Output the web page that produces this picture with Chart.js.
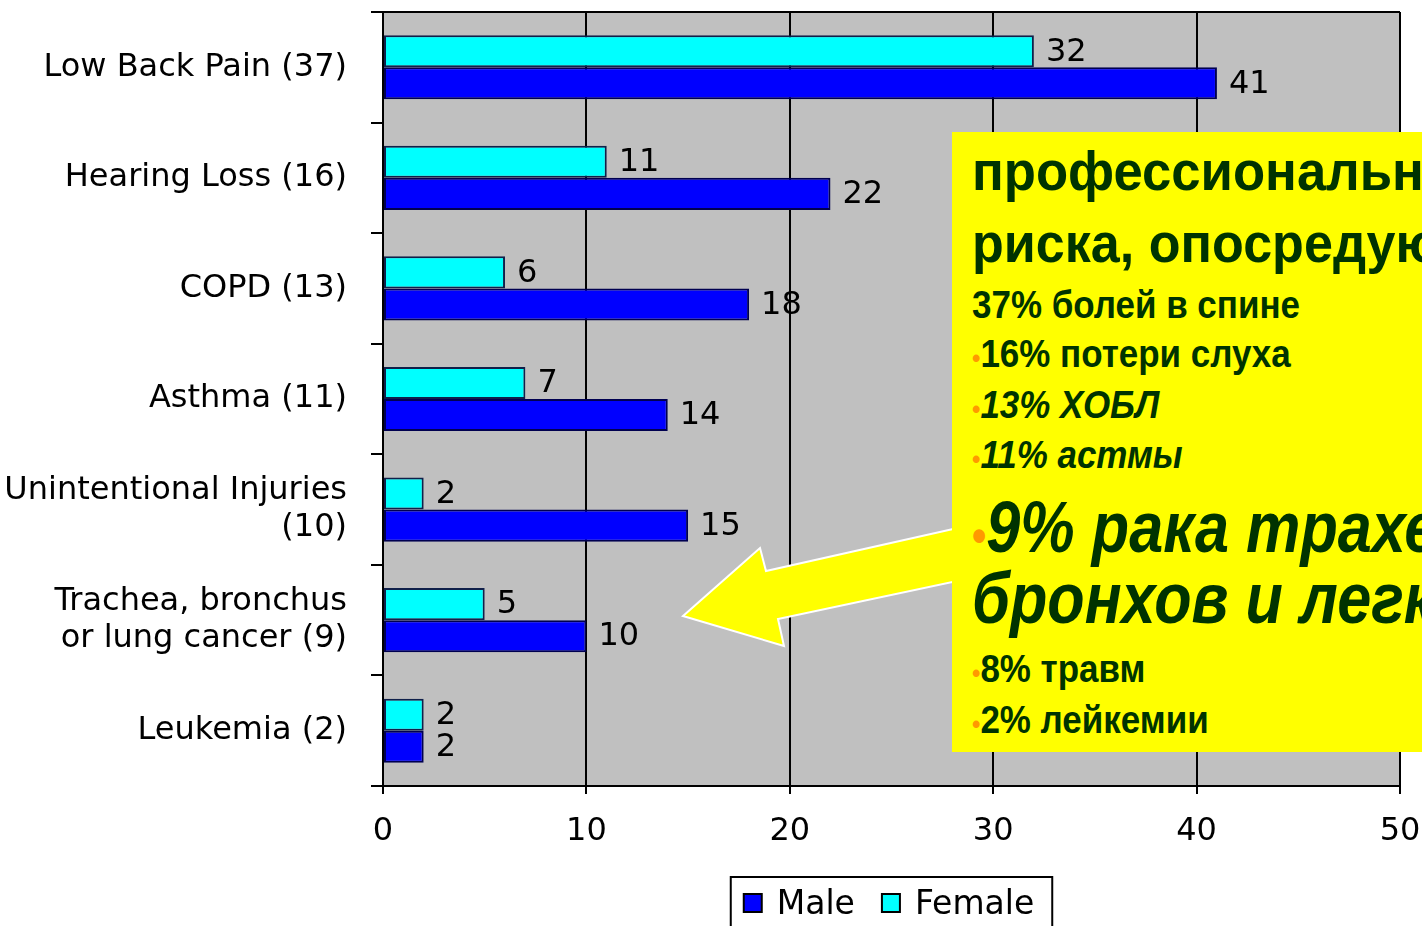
<!DOCTYPE html>
<html><head><meta charset="utf-8">
<script src="https://cdn.jsdelivr.net/npm/chart.js@4.4.0/dist/chart.umd.min.js"></script>
<style>
html,body{margin:0;padding:0;background:#fff;overflow:hidden;width:1422px;height:926px;}
#wrap{position:relative;width:1422px;height:926px;overflow:hidden;}
canvas{position:absolute;left:0;top:0;}
#arrow{position:absolute;left:0;top:0;}
#note{position:absolute;left:952px;top:132px;width:470px;height:620px;background:#ffff00;overflow:hidden;}
.ln{position:absolute;white-space:nowrap;font-family:'Liberation Sans',Arial,sans-serif;font-weight:bold;color:#003300;transform-origin:0 0;line-height:1;}
.it{font-style:italic;}
.b{color:#ff9900;}
</style></head>
<body><div id="wrap">
<canvas id="c" width="1422" height="926"></canvas>
<svg id="arrow" width="1422" height="926"><polygon points="683,616 760,548 766,571 962,527 962,580 778,619 784,646" fill="#ffff00" stroke="#ffffff" stroke-width="2" stroke-linejoin="miter"/></svg>
<div id="note"></div>
</div>
<script>
// ---- data ----
const categories = ['Low Back Pain (37)', 'Hearing Loss (16)', 'COPD (13)', 'Asthma (11)', ['Unintentional Injuries', '(10)'], ['Trachea, bronchus', 'or lung cancer (9)'], 'Leukemia (2)'];
const femaleValues = [32, 11, 6, 7, 2, 5, 2];
const maleValues = [41, 22, 18, 14, 15, 10, 2];
const xTickValues = [0, 10, 20, 30, 40, 50];
const seriesNames = ['Female', 'Male'];
const noteLines = [
  {bullet: false, text: 'профессиональн', size: 56, italic: false, base: 58, sx: 0.94},
  {bullet: false, text: 'риска, опосредую', size: 56, italic: false, base: 130, sx: 0.93},
  {bullet: false, text: '37% болей в спине', size: 38, italic: false, base: 186, sx: 0.92},
  {bullet: true, text: '16% потери слуха', size: 38, italic: false, base: 235, sx: 0.92},
  {bullet: true, text: '13% ХОБЛ', size: 38, italic: true, base: 286, sx: 0.92},
  {bullet: true, text: '11% астмы', size: 38, italic: true, base: 336, sx: 0.92},
  {bullet: true, text: '9% рака трахе', size: 72, italic: true, base: 420, sx: 0.85},
  {bullet: false, text: 'бронхов и легк', size: 72, italic: true, base: 491, sx: 0.85},
  {bullet: true, text: '8% травм', size: 38, italic: false, base: 550, sx: 0.92},
  {bullet: true, text: '2% лейкемии', size: 38, italic: false, base: 601, sx: 0.92}
];

// ---- annotation box (real text) ----
const note = document.getElementById('note');
noteLines.forEach(l => {
  const d = document.createElement('div');
  d.className = 'ln' + (l.italic ? ' it' : '');
  d.style.fontSize = l.size + 'px';
  d.style.left = '20px';
  d.style.top = (l.base - 0.8465 * l.size) + 'px';
  d.style.transform = 'scaleX(' + l.sx + ')';
  if (l.bullet) {
    const b = document.createElement('span');
    b.className = 'b';
    b.style.fontSize = (l.size > 60 ? 48 : 26) + 'px';
    b.style.fontStyle = 'normal';
    b.textContent = '•';
    d.appendChild(b);
  }
  d.appendChild(document.createTextNode(l.text));
  note.appendChild(d);
});

// ---- plugins ----
const plotBg = {
  id: 'plotBg',
  beforeDraw(chart) {
    const {ctx, chartArea: a} = chart;
    ctx.save();
    ctx.fillStyle = '#c0c0c0';
    ctx.fillRect(a.left, a.top, a.right - a.left, a.bottom - a.top);
    ctx.restore();
  },
  beforeDatasetsDraw(chart) {
    const {ctx, chartArea: a} = chart;
    ctx.save();
    ctx.strokeStyle = '#000';
    ctx.lineWidth = 2;
    ctx.beginPath();
    ctx.moveTo(a.left, a.top);
    ctx.lineTo(a.right, a.top);
    ctx.stroke();
    ctx.restore();
  }
};
const valueLabels = {
  id: 'valueLabels',
  afterDatasetsDraw(chart) {
    const ctx = chart.ctx;
    ctx.save();
    ctx.font = '32px "DejaVu Sans"';
    ctx.fillStyle = '#000';
    ctx.textBaseline = 'middle';
    ctx.textAlign = 'left';
    chart.data.datasets.forEach((ds, i) => {
      chart.getDatasetMeta(i).data.forEach((bar, j) => {
        ctx.fillText(String(ds.data[j]), bar.x + 12, bar.y + 1);
      });
    });
    ctx.restore();
  }
};
const boxLegend = {
  id: 'boxLegend',
  afterDraw(chart) {
    const ctx = chart.ctx;
    const a = chart.chartArea;
    ctx.save();
    ctx.font = '33px "DejaVu Sans"';
    const items = chart.data.datasets.slice().reverse();
    const box = 18, gapText = 15, gapItem = 27, padL = 13, padR = 18;
    let total = 0;
    items.forEach((ds, k) => { total += box + gapText + ctx.measureText(ds.label).width + (k ? gapItem : 0); });
    const cx = (a.left + a.right) / 2;
    const startX = cx - (total + padL + padR) / 2;
    const cy = 903;
    ctx.fillStyle = '#fff';
    ctx.fillRect(startX, 877, total + padL + padR, 60);
    ctx.strokeStyle = '#000';
    ctx.lineWidth = 2;
    ctx.strokeRect(startX, 877, total + padL + padR, 60);
    let x = startX + padL;
    ctx.textBaseline = 'middle';
    items.forEach(ds => {
      ctx.fillStyle = ds.backgroundColor;
      ctx.fillRect(x, cy - 9, box, box);
      ctx.strokeStyle = '#000';
      ctx.lineWidth = 2;
      ctx.strokeRect(x, cy - 9, box, box);
      x += box + gapText;
      ctx.fillStyle = '#000';
      ctx.fillText(ds.label, x, cy + 2);
      x += ctx.measureText(ds.label).width + gapItem;
    });
    ctx.restore();
  }
};

new Chart(document.getElementById('c'), {
  type: 'bar',
  data: {
    labels: categories,
    datasets: [
      {label: seriesNames[0], data: femaleValues, backgroundColor: '#00ffff', borderColor: '#10204a', borderWidth: 2, borderSkipped: false},
      {label: seriesNames[1], data: maleValues, backgroundColor: '#0000ff', borderColor: '#000050', borderWidth: 2, borderSkipped: false}
    ]
  },
  options: {
    indexAxis: 'y',
    responsive: false,
    animation: false,
    devicePixelRatio: 1,
    layout: {padding: {top: 12, right: 22, bottom: 0, left: 0}},
    datasets: {bar: {barPercentage: 1, categoryPercentage: 0.58}},
    plugins: {legend: {display: false}, tooltip: {enabled: false}},
    scales: {
      x: {
        min: xTickValues[0], max: xTickValues[xTickValues.length - 1],
        afterBuildTicks(scale) { scale.ticks = xTickValues.map(v => ({value: v})); },
        afterFit(scale) { scale.height = 140; scale.paddingLeft = 0; scale.paddingRight = 0; },
        grid: {color: '#000', lineWidth: 2, tickLength: 8, drawOnChartArea: true},
        border: {display: true, color: '#000', width: 2},
        ticks: {color: '#000', font: {family: 'DejaVu Sans', size: 32}, padding: 18, maxRotation: 0}
      },
      y: {
        afterFit(scale) { scale.width = 383; scale.paddingTop = 0; scale.paddingBottom = 0; },
        grid: {offset: true, drawOnChartArea: false, color: '#000', lineWidth: 2, tickLength: 12},
        border: {display: true, color: '#000', width: 2},
        ticks: {color: '#000', font: {family: 'DejaVu Sans', size: 32, lineHeight: 1.15}, padding: 24, autoSkip: false}
      }
    }
  },
  plugins: [plotBg, valueLabels, boxLegend]
});
</script>
</body></html>
